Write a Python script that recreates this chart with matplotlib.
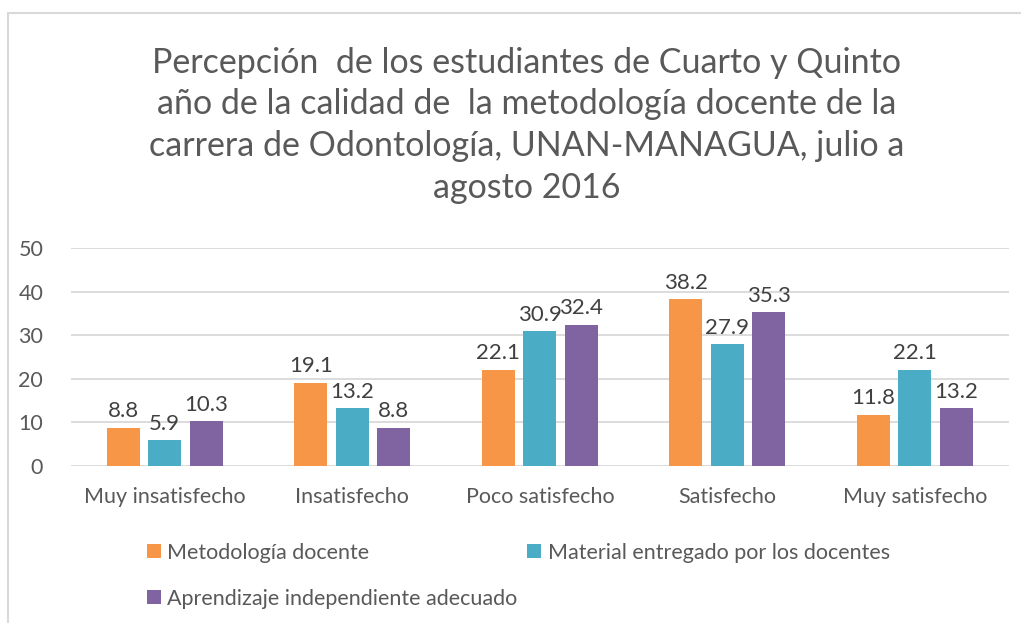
import matplotlib.pyplot as plt
import numpy as np
from matplotlib.patches import Rectangle

categorias = ['Muy insatisfecho', 'Insatisfecho', 'Poco satisfecho', 'Satisfecho', 'Muy satisfecho']
metodologia = [8.8, 19.1, 22.1, 38.2, 11.8]
material = [5.9, 13.2, 30.9, 27.9, 22.1]
aprendizaje = [10.3, 8.8, 32.4, 35.3, 13.2]
series = ['Metodología docente', 'Material entregado por los docentes',
          'Aprendizaje independiente adecuado']
colores = ['#F79646', '#4BACC6', '#8064A2']

titulo = ('Percepción  de los estudiantes de Cuarto y Quinto\n'
          'año de la calidad de  la metodología docente de la\n'
          'carrera de Odontología, UNAN-MANAGUA, julio a\n'
          'agosto 2016')

plt.rcParams['font.family'] = ['Lato', 'DejaVu Sans']
gris = '#595959'

fig = plt.figure(figsize=(10.21, 6.23), dpi=100)
ax = fig.add_axes([0.0695, 0.252, 0.9185, 0.350])

x = np.arange(len(categorias))
w = 0.176
paso = 0.221
handles = []
for k, (vals, col) in enumerate(zip([metodologia, material, aprendizaje], colores)):
    b = ax.bar(x + (k - 1) * paso, vals, w, color=col, label=series[k], zorder=3)
    handles.append(b)
    for xi, v in zip(x + (k - 1) * paso, vals):
        ax.text(xi, v + 1.5, f'{v:.1f}', ha='center', va='bottom',
                fontsize=16, color='#404040')

ax.set_xlim(-0.5, len(categorias) - 0.5)
ax.set_ylim(0, 50)
ax.set_yticks(range(0, 51, 10))
ax.yaxis.grid(True, color='#D9D9D9', linewidth=1.3, zorder=0)
ax.set_xticks(x)
ax.set_xticklabels(categorias)
for s in ax.spines.values():
    s.set_visible(False)
ax.tick_params(length=0, labelsize=15.5, colors=gris)
ax.tick_params(axis='x', pad=15)
ax.tick_params(axis='y', pad=20)

fig.text(0.516, 0.925, titulo, ha='center', va='top', fontsize=24.5,
         color=gris, linespacing=1.37)

fig.legend([handles[0], handles[2], handles[1]],
           [series[0], series[2], series[1]],
           ncol=2, loc='upper left', bbox_to_anchor=(0.125, 0.16),
           frameon=False, fontsize=15.5, handlelength=0.65, handleheight=0.65,
           handletextpad=0.3, columnspacing=0.45, labelspacing=1.2,
           labelcolor=gris)

fig.patches.append(Rectangle((8 / 1021, -0.1), 1.2, 1 - 13 / 623 + 0.1,
                             transform=fig.transFigure, fill=False,
                             edgecolor='#D9D9D9', linewidth=1.5))

fig.savefig('out.png', dpi=100)
